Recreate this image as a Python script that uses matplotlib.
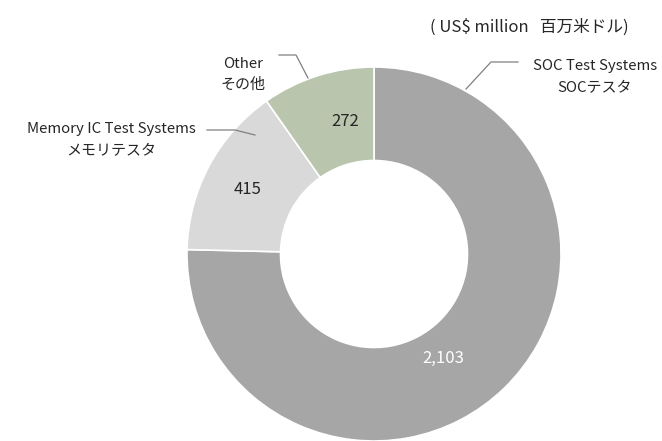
import matplotlib.pyplot as plt

plt.rcParams['font.family'] = ['Noto Sans CJK JP', 'DejaVu Sans']

segments = ["SOC Test Systems", "Memory IC Test Systems", "Other"]
segments_jp = ["SOCテスタ", "メモリテスタ", "その他"]
values = [2103, 415, 272]
colors = ["#a6a6a6", "#d9d9d9", "#bac5ad"]

W, H = 662, 441
fig = plt.figure(figsize=(W / 100, H / 100), dpi=100)
ax = fig.add_axes([0, 0, 1, 1])


def py(y):
    # pixel y (from top) to data y
    return H - y


cx, cy, r = 374, py(254), 187
ax.pie(values, colors=colors, startangle=90, counterclock=False,
       center=(cx, cy), radius=r,
       wedgeprops=dict(width=r * 0.5, edgecolor="white", linewidth=1.2))

# pie() resets the limits, so set them afterwards
ax.set_xlim(0, W)
ax.set_ylim(0, H)
ax.set_aspect("equal")
ax.axis("off")

# value labels
value_pos = [(443, 358), (248, 189), (345, 122)]
value_colors = ["white", "#262626", "#262626"]
for v, (x, y), c in zip(values, value_pos, value_colors):
    ax.text(x, py(y), f"{v:,}", ha="center", va="center", fontsize=12, color=c)

# category labels
label_pos = [(595, 66, 595, 88), (111, 129, 111, 151), (243, 64, 243, 85)]
for en, jp, (x1, y1, x2, y2) in zip(segments, segments_jp, label_pos):
    ax.text(x1, py(y1), en, ha="center", va="center", fontsize=10.8, color="#262626")
    ax.text(x2, py(y2), jp, ha="center", va="center", fontsize=10.8, color="#262626")

# leader lines
leaders = [
    [(518, 62), (491, 62), (466, 89)],
    [(207, 130), (235, 130), (255, 135)],
    [(279, 55), (296, 55), (308, 78)],
]
for pts in leaders:
    ax.plot([p[0] for p in pts], [py(p[1]) for p in pts], color="#808080", lw=0.9)

ax.text(529, py(27), "( US$ million   百万米ドル)", ha="center", va="center",
        fontsize=12, color="#262626")

fig.savefig("out.png", dpi=100)
